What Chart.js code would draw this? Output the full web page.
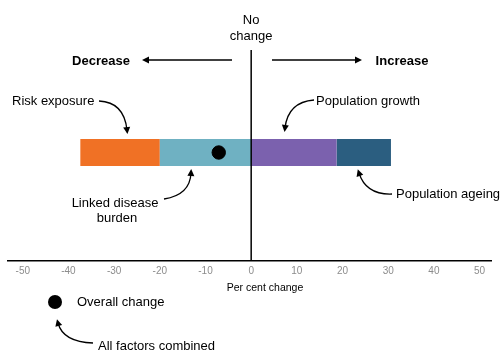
<!DOCTYPE html>
<html><head><meta charset="utf-8">
<script src="https://cdn.jsdelivr.net/npm/chart.js@4/dist/chart.umd.min.js"></script>
<style>html,body{margin:0;padding:0;background:#fff}#wrap{width:502px;height:352px;position:relative}</style>
</head><body><div id="wrap"><canvas id="c" width="502" height="352"></canvas></div>
<script>
const categories = ['Change'];
const linkedDiseaseBurden = [-20.0];
const riskExposure = [-17.4];
const populationGrowth = [18.7];
const populationAgeing = [11.9];
const overallChange = [-7.1];
const tickValues = [-50, -40, -30, -20, -10, 0, 10, 20, 30, 40, 50];

const FONT = '"Liberation Sans", Arial, sans-serif';

function arrowHead(ctx, x, y, angle, len, w) {
  ctx.save();
  ctx.translate(x, y); ctx.rotate(angle);
  ctx.beginPath();
  ctx.moveTo(0, 0); ctx.lineTo(-len, -w / 2); ctx.lineTo(-len, w / 2); ctx.closePath();
  ctx.fill();
  ctx.restore();
}
function curveArrow(ctx, x0, y0, cx, cy, x1, y1) {
  ctx.beginPath(); ctx.moveTo(x0, y0); ctx.quadraticCurveTo(cx, cy, x1, y1); ctx.stroke();
  const ang = Math.atan2(y1 - cy, x1 - cx);
  arrowHead(ctx, x1 + Math.cos(ang) * 4, y1 + Math.sin(ang) * 4, ang, 7, 7);
}

const annot = {
  id: 'annot',
  afterDatasetsDraw(chart) {
    const ctx = chart.ctx; const xs = chart.scales.x; const area = chart.chartArea;
    const x0 = xs.getPixelForValue(0);
    ctx.save();
    ctx.strokeStyle = '#000'; ctx.fillStyle = '#000'; ctx.lineWidth = 1.5;
    ctx.beginPath(); ctx.moveTo(x0, 50); ctx.lineTo(x0, area.bottom); ctx.stroke();
    ctx.lineWidth = 1.3;
    // horizontal arrows
    ctx.beginPath(); ctx.moveTo(232, 60); ctx.lineTo(148, 60); ctx.stroke();
    arrowHead(ctx, 142, 60, Math.PI, 7, 7);
    ctx.beginPath(); ctx.moveTo(272, 60); ctx.lineTo(356, 60); ctx.stroke();
    arrowHead(ctx, 362, 60, 0, 7, 7);
    // texts
    ctx.textBaseline = 'middle';
    ctx.font = '13px ' + FONT;
    ctx.textAlign = 'center';
    ctx.fillText('No', x0, 20);
    ctx.fillText('change', x0, 36);
    ctx.font = 'bold 13px ' + FONT;
    ctx.fillText('Decrease', 101, 61);
    ctx.fillText('Increase', 402, 61);
    ctx.font = '13px ' + FONT;
    ctx.textAlign = 'left';
    ctx.fillText('Risk exposure', 12, 101);
    ctx.fillText('Population growth', 316, 101);
    ctx.fillText('Population ageing', 396, 194);
    ctx.textAlign = 'center';
    ctx.fillText('Linked disease', 115, 203);
    ctx.fillText('burden', 117, 218);
    ctx.font = '10.5px ' + FONT;
    ctx.fillText('Per cent change', 265, 288);
    ctx.font = '13px ' + FONT;
    ctx.textAlign = 'left';
    ctx.fillText('Overall change', 77, 302);
    ctx.fillText('All factors combined', 98, 346);
    // legend dot
    ctx.beginPath(); ctx.arc(55, 302, 7, 0, Math.PI * 2); ctx.fill();
    // curved arrows
    curveArrow(ctx, 99, 101, 124, 102, 127, 130);
    curveArrow(ctx, 314, 100, 288, 102, 285, 128);
    curveArrow(ctx, 164, 199, 190, 195, 191, 173);
    curveArrow(ctx, 392, 194, 366, 195, 359, 173);
    curveArrow(ctx, 93, 343, 63, 342, 58, 323);
    ctx.restore();
  }
};

new Chart(document.getElementById('c'), {
  data: {
    labels: categories,
    datasets: [
      { type: 'bar', label: 'Linked disease burden', data: linkedDiseaseBurden, backgroundColor: '#6FB1C2', stack: 's', grouped: false, maxBarThickness: 27, order: 2 },
      { type: 'bar', label: 'Risk exposure', data: riskExposure, backgroundColor: '#F07125', stack: 's', grouped: false, maxBarThickness: 27, order: 2 },
      { type: 'bar', label: 'Population growth', data: populationGrowth, backgroundColor: '#7B61AE', stack: 's', grouped: false, maxBarThickness: 27, order: 2 },
      { type: 'bar', label: 'Population ageing', data: populationAgeing, backgroundColor: '#2B5E80', stack: 's', grouped: false, maxBarThickness: 27, order: 2 },
      { type: 'scatter', label: 'Overall change', data: overallChange.map(v => ({ x: v, y: 0.5 })), yAxisID: 'y2', backgroundColor: '#000', borderColor: '#000', pointRadius: 6.7, order: 0 }
    ]
  },
  options: {
    indexAxis: 'y',
    responsive: false,
    animation: false,
    layout: { padding: { left: 7, right: 11, top: 44, bottom: 71 } },
    plugins: { legend: { display: false }, tooltip: { enabled: false } },
    scales: {
      x: {
        type: 'linear', min: -53.3, max: 52.5, stacked: true,
        afterBuildTicks: (s) => { s.ticks = tickValues.map(v => ({ value: v })); },
        grid: { display: false, drawTicks: false },
        border: { display: true, color: '#000', width: 1.5 },
        ticks: { color: '#8c8c8c', font: { size: 10, family: FONT }, padding: 4, maxRotation: 0, autoSkip: false }
      },
      y: { type: 'category', stacked: true, display: false },
      y2: { type: 'linear', min: 0, max: 1, display: false }
    }
  },
  plugins: [annot]
});
</script></body></html>
